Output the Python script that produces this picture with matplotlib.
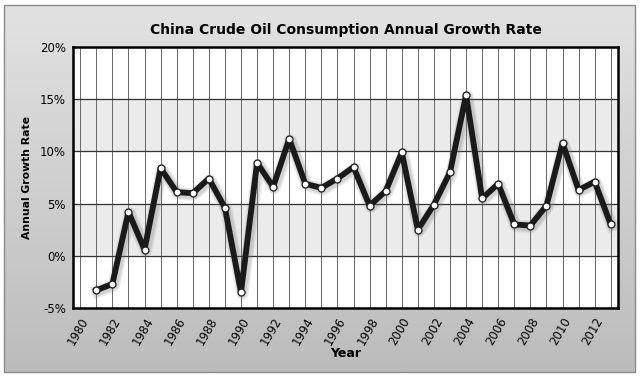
import numpy as np
import matplotlib.pyplot as plt
import matplotlib.patheffects as pe
from matplotlib.patches import Rectangle
from matplotlib.colors import LinearSegmentedColormap
from matplotlib.ticker import FuncFormatter

# -------------------------------
# Data: annual growth rate of crude oil consumption (%)
# -------------------------------
years = list(range(1981, 2014))
growth = [-3.3, -2.7, 4.2, 0.6, 8.4, 6.1, 6.0, 7.4, 4.6, -3.5,
          8.9, 6.6, 11.2, 6.9, 6.5, 7.4, 8.5, 4.8, 6.2, 9.9,
          2.5, 4.9, 8.0, 15.4, 5.5, 6.9, 3.0, 2.9, 4.8, 10.8,
          6.3, 7.1, 3.0]
year_ticks = list(range(1980, 2013, 2))
pct_ticks = [-5, 0, 5, 10, 15, 20]

fig = plt.figure(figsize=(6.4, 3.79), dpi=100)
fig.patch.set_facecolor('white')

# background panel with vertical grey gradient
bg = fig.add_axes([0, 0, 1, 1], zorder=0)
bg.set_xlim(0, 640)
bg.set_ylim(379, 0)
bg.axis('off')
grad = np.linspace(0, 1, 256).reshape(-1, 1)
bg.imshow(grad, cmap=LinearSegmentedColormap.from_list('g', ['#e2e2e2', '#bcbcbc']),
          extent=[4, 635, 372, 5], aspect='auto')
bg.add_patch(Rectangle((4, 5), 631, 367, fill=False, ec='#8a8a8a', lw=1))

# plot area in pixel coordinates
left, right, top, bottom = 73, 618, 47, 308
ax = fig.add_axes([left / 640, 1 - bottom / 379, (right - left) / 640,
                   (bottom - top) / 379], zorder=1)
ax.set_xlim(1979.55, 2013.45)
ax.set_ylim(-5, 20)
ax.set_facecolor('white')

# alternating horizontal bands
for lo in [0, 10]:
    ax.axhspan(lo, lo + 5, color='#ebebeb', zorder=0)

for yr in range(1980, 2014):
    ax.axvline(yr, color='#666666', lw=0.7, zorder=1)
for p in pct_ticks[1:-1]:
    ax.axhline(p, color='#333333', lw=0.9, zorder=1)

# soft blurred shadow under the line
shadow = [pe.SimpleLineShadow(offset=(1, -1), shadow_color='#777777',
                              alpha=0.12, linewidth=w) for w in (9, 7.5, 6)]
ax.plot(years, growth, color='#1a1a1a', lw=4.2, solid_joinstyle='round',
        zorder=3, path_effects=shadow + [pe.Normal()])
ax.plot(years, growth, 'o', ms=5, mfc='white', mec='#1a1a1a', mew=0.9, zorder=4)

ax.set_xticks(year_ticks)
ax.set_xticklabels([str(y) for y in year_ticks], rotation=60, ha='right',
                   rotation_mode='anchor', fontsize=8.5)
ax.set_yticks(pct_ticks)
ax.yaxis.set_major_formatter(FuncFormatter(lambda v, _: f'{v:.0f}%'))
ax.tick_params(axis='both', length=0, labelsize=8.5, pad=5)
for s in ax.spines.values():
    s.set_linewidth(1.8)
    s.set_color('black')

ax.set_xlabel('Year', fontsize=9, fontweight='bold', labelpad=0)
ax.set_ylabel('Annual Growth Rate', fontsize=7.8, fontweight='bold', labelpad=6)
fig.text((left + right) / 2 / 640, 1 - 30 / 379,
         'China Crude Oil Consumption Annual Growth Rate',
         ha='center', va='center', fontsize=10, fontweight='bold')

fig.savefig('out.png', dpi=100)
